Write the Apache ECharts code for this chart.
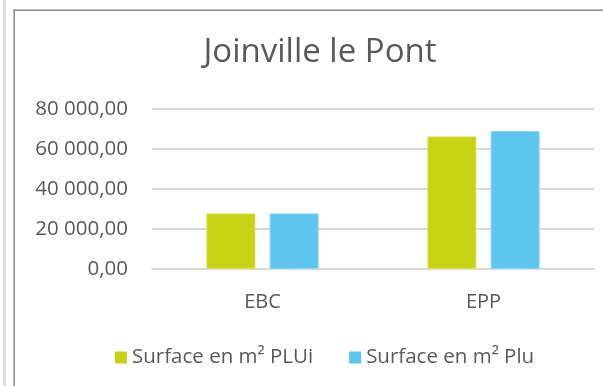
<!DOCTYPE html>
<html>
<head>
<meta charset="utf-8">
<script src="https://cdn.jsdelivr.net/npm/echarts@6/dist/echarts.min.js"></script>
<style>
  html, body { margin: 0; padding: 0; background: #fff; }
  #chart { width: 603px; height: 386px; }
</style>
</head>
<body>
<div id="chart"></div>
<script>
// Surfaces (m²) par type d'espace
const categories = ['EBC', 'EPP'];
const surfacePLUi = [27800, 66300];
const surfacePlu = [27800, 69000];
const seriesNames = ['Surface en m\u00B2 PLUi', 'Surface en m\u00B2 Plu'];
const chartTitle = 'Joinville le Pont';

const FONT = 'Open Sans';
const TEXT = '#595959';

function frNumber(v) {
  const parts = v.toFixed(2).split('.');
  const int = parts[0].replace(/\B(?=(\d{3})+(?!\d))/g, '\u00A0');
  return int + ',' + parts[1];
}

const chart = echarts.init(document.getElementById('chart'), null, { renderer: 'canvas' });
chart.setOption({
  backgroundColor: '#ffffff',
  animation: false,
  title: {
    text: chartTitle,
    left: 315,
    top: 31,
    textAlign: 'center',
    textStyle: { fontFamily: FONT, fontSize: 33, fontWeight: 'normal', color: TEXT }
  },
  legend: {
    data: seriesNames,
    left: 110,
    top: 342,
    itemWidth: 12,
    itemHeight: 12,
    itemGap: 36,
    itemStyle: { borderWidth: 0 },
    icon: 'rect',
    textStyle: { fontFamily: FONT, fontSize: 20.5, color: TEXT }
  },
  grid: { left: 152, right: 9, top: 109, bottom: 117, containLabel: false },
  xAxis: {
    type: 'category',
    data: categories,
    axisLine: { show: true, lineStyle: { color: '#d9d9d9', width: 2 } },
    axisTick: { show: false },
    axisLabel: { margin: 23, fontFamily: FONT, fontSize: 20, color: TEXT }
  },
  yAxis: {
    type: 'value',
    min: 0,
    max: 80000,
    interval: 20000,
    axisLine: { show: false },
    axisTick: { show: false },
    splitLine: { lineStyle: { color: '#d9d9d9', width: 2 } },
    axisLabel: { margin: 24, fontFamily: FONT, fontSize: 20.5, color: TEXT, formatter: frNumber }
  },
  series: [
    {
      name: seriesNames[0],
      type: 'bar',
      data: surfacePLUi,
      barWidth: 49,
      barGap: '29%',
      itemStyle: { color: '#C9D316', borderColor: '#d8e05a', borderWidth: 1 }
    },
    {
      name: seriesNames[1],
      type: 'bar',
      data: surfacePlu,
      barWidth: 49,
      barGap: '29%',
      itemStyle: { color: '#5EC5EE', borderColor: '#8ad6f3', borderWidth: 1 }
    }
  ],
  graphic: [
    { type: 'rect', shape: { x: 3, y: 0, width: 3, height: 386 }, style: { fill: '#dedede' }, silent: true },
    { type: 'rect', shape: { x: 13.5, y: 9.5, width: 1.5, height: 377 }, style: { fill: '#8c8c8c' }, silent: true },
    { type: 'rect', shape: { x: 13.5, y: 9.5, width: 590, height: 1.5 }, style: { fill: '#8c8c8c' }, silent: true }
  ]
});
</script>
</body>
</html>
